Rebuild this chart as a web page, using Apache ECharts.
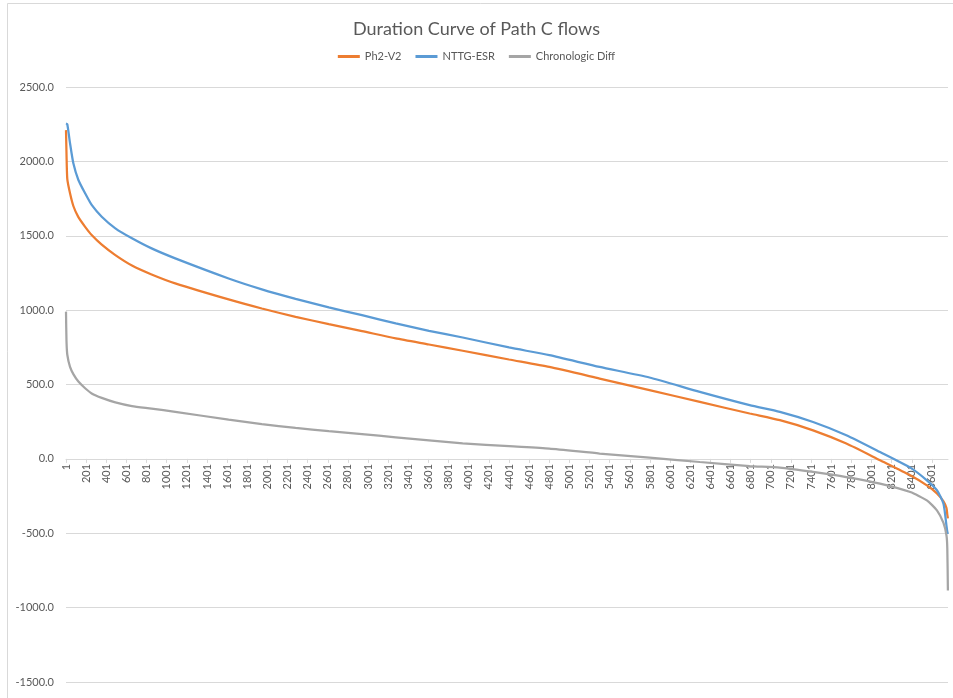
<!DOCTYPE html>
<html>
<head>
<meta charset="utf-8">
<script src="https://cdn.jsdelivr.net/npm/echarts@6/dist/echarts.min.js"></script>
<style>
html,body{margin:0;padding:0;background:#fff;}
#chart{width:953px;height:698px;}
</style>
</head>
<body>
<div id="chart"></div>
<script>
const hours = [0, 5, 13, 40, 73, 123, 190, 255, 355, 490, 655, 850, 1085, 1615, 1945, 2280, 2610, 2940, 3275, 3605, 3940, 4400, 4800, 5300, 5795, 6295, 6790, 7090, 7420, 7750, 8085, 8385, 8550, 8650, 8715, 8745, 8753, 8759];
const ph2V2 = [2210, 2050, 1880, 1785, 1700, 1625, 1560, 1505, 1440, 1370, 1300, 1240, 1180, 1072, 1011, 955, 906, 859, 810, 769, 727, 668, 618, 540, 462, 383, 305, 260, 192, 103, -9, -110, -178, -232, -285, -330, -375, -400];
const nttgEsr = [2255, 2255, 2250, 2122, 1987, 1875, 1785, 1707, 1628, 1550, 1483, 1415, 1348, 1213, 1140, 1076, 1018, 966, 911, 861, 816, 749, 697, 618, 547, 450, 361, 316, 248, 159, 46, -59, -144, -211, -301, -450, -490, -505];
const chronoDiff = [990, 790, 700, 618, 570, 520, 475, 440, 410, 380, 355, 338, 316, 264, 233, 208, 186, 166, 145, 125, 105, 85, 69, 36, 9, -21, -48, -59, -88, -122, -166, -223, -279, -346, -430, -515, -600, -885];

const yMin = -1500, yMax = 2500, yStep = 500;
const xMin = 0, xMax = 8760, xStep = 200;

const seriesNames = ['Ph2-V2', 'NTTG-ESR', 'Chronologic Diff'];
const seriesColors = ['#ED7D31', '#5B9BD5', '#A5A5A5'];
const seriesValues = [ph2V2, nttgEsr, chronoDiff];

const FONT = 'Lato, "Open Sans", sans-serif';
const chart = echarts.init(document.getElementById('chart'), null, {renderer: 'canvas'});

// plot area geometry
const gTop = 87, gBottomY = 682;
const zeroY = gTop + (gBottomY - gTop) * yMax / (yMax - yMin);

chart.setOption({
  animation: false,
  backgroundColor: '#ffffff',
  title: {
    text: 'Duration Curve of Path C flows',
    left: 'center',
    top: 15,
    textStyle: {fontFamily: FONT, fontSize: 18, fontWeight: 'normal', color: '#595959'}
  },
  legend: {
    data: seriesNames,
    top: 46,
    left: 'center',
    icon: 'rect',
    itemWidth: 22,
    itemHeight: 3,
    itemGap: 14,
    textStyle: {fontFamily: FONT, fontSize: 11, color: '#595959'}
  },
  graphic: [{
    type: 'rect',
    shape: {x: 7.5, y: 3.5, width: 1000, height: 1000},
    style: {fill: 'none', stroke: '#d9d9d9', lineWidth: 1},
    silent: true
  }],
  grid: [
    {left: 66, right: 5, top: gTop, bottom: 698 - gBottomY, containLabel: false, outerBoundsMode: 'none'},
    // helper grid whose bottom edge sits on value 0 of the main grid: carries the x labels
    {left: 66, right: 5, top: gTop, height: zeroY - gTop, containLabel: false, outerBoundsMode: 'none'}
  ],
  xAxis: [{
    gridIndex: 0,
    type: 'value',
    min: xMin, max: xMax, interval: xStep,
    axisLine: {show: false},
    axisTick: {show: false},
    axisLabel: {show: false},
    splitLine: {show: false}
  }, {
    gridIndex: 1,
    type: 'value',
    position: 'bottom',
    min: xMin, max: xMax, interval: xStep,
    axisLine: {show: true, onZero: false, lineStyle: {color: '#d9d9d9', width: 1}},
    axisTick: {show: true, length: 4, lineStyle: {color: '#d9d9d9'}},
    splitLine: {show: false},
    axisLabel: {
      rotate: 90,
      fontFamily: FONT,
      fontSize: 11,
      color: '#595959',
      margin: 5,
      showMaxLabel: false,
      formatter: v => String(v + 1)
    }
  }],
  yAxis: [{
    gridIndex: 0,
    type: 'value',
    min: yMin, max: yMax, interval: yStep,
    axisLine: {show: false, onZero: false},
    axisTick: {show: false},
    splitLine: {lineStyle: {color: '#d9d9d9', width: 1}},
    axisLabel: {
      fontFamily: FONT,
      fontSize: 11,
      color: '#595959',
      margin: 12,
      formatter: v => v.toFixed(1)
    }
  }, {
    gridIndex: 1,
    type: 'value',
    min: 0, max: yMax,
    show: false,
    axisLine: {show: false, onZero: false},
    splitLine: {show: false}
  }],
  series: seriesNames.map((name, k) => ({
    name: name,
    type: 'line',
    xAxisIndex: 0,
    yAxisIndex: 0,
    data: hours.map((h, i) => [h, seriesValues[k][i]]),
    showSymbol: false,
    smooth: 0.2,
    lineStyle: {color: seriesColors[k], width: 2.25},
    itemStyle: {color: seriesColors[k]}
  }))
});
</script>
</body>
</html>
